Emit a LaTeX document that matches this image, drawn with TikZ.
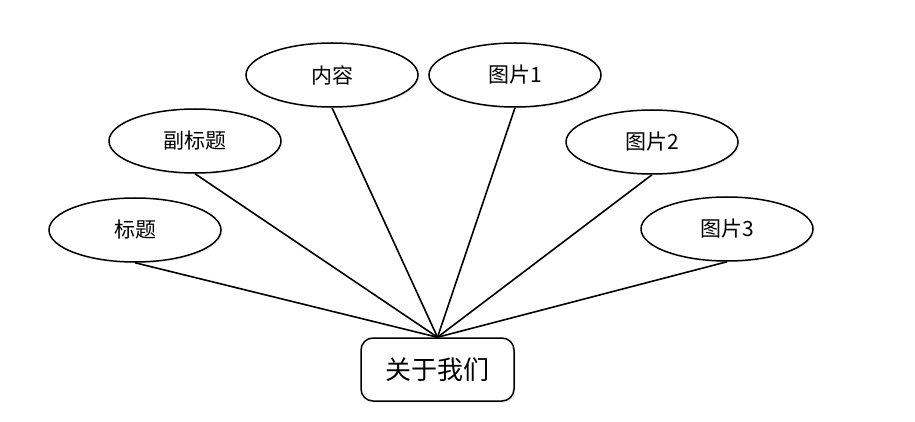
\documentclass[tikz,border=0pt]{standalone}
\usepackage{fontspec}
\newfontfamily\cjk{Noto Sans CJK SC}[FakeBold=0]
\usetikzlibrary{shapes.geometric,shadows}
\begin{document}
\begin{tikzpicture}[x=1pt,y=-1pt,
  attr/.style={ellipse,draw,line width=1.5pt,minimum width=172pt,minimum height=64pt,inner sep=0pt,
    font=\cjk\fontsize{21}{24}\selectfont,fill=white,
    drop shadow={fill=blue!8,shadow xshift=1.5pt,shadow yshift=-1.5pt,opacity=1}},
  ent/.style={rectangle,rounded corners=12pt,draw,line width=1.5pt,minimum width=153pt,minimum height=63pt,inner sep=0pt,
    font=\cjk\fontsize{26}{30}\selectfont,fill=white,
    drop shadow={fill=blue!8,shadow xshift=1.5pt,shadow yshift=-1.5pt,opacity=1}},
  link/.style={line width=1.6pt}]
\useasboundingbox (0,0) rectangle (915,422);
\node[attr] (t) at (135,230) {标题};
\node[attr] (st) at (195,141) {副标题};
\node[attr] (nr) at (332,75) {内容};
\node[attr] (p1) at (515,75) {图片1};
\node[attr] (p2) at (652,142) {图片2};
\node[attr] (p3) at (727,229) {图片3};
\node[ent] (g) at (437.5,369.5) {关于我们};
\foreach \n in {t,st,nr,p1,p2,p3} \draw[link] (\n.south) -- (g.north);
\end{tikzpicture}
\end{document}
